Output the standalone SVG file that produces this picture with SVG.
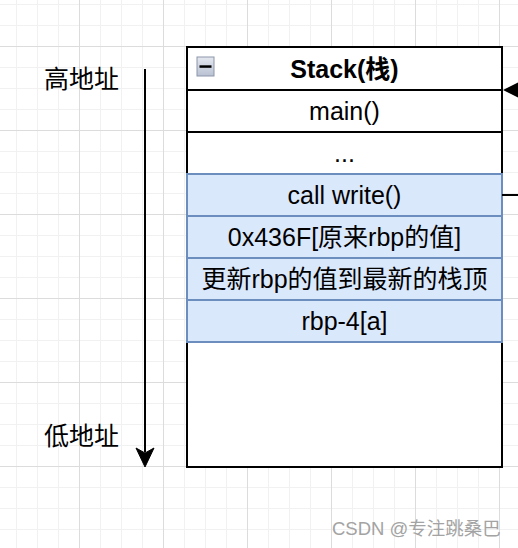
<svg xmlns="http://www.w3.org/2000/svg" width="518" height="548" viewBox="0 0 518 548">
<style>
.t{font-family:"Liberation Sans","Noto Sans CJK SC",sans-serif;font-size:25px;fill:#000;text-anchor:middle}
.b{font-weight:bold}
.l{text-anchor:start}
.row{fill:#dae8fc;stroke:#6c8ebf;stroke-width:2}
.blk{stroke:#000;stroke-width:2;fill:none}
.wm{font-family:"Liberation Sans","Noto Sans CJK SC",sans-serif;font-size:18.5px;fill:#a3a3a3}
</style>
<defs>
<pattern id="minor" patternUnits="userSpaceOnUse" x="16" y="4" width="21" height="21">
<path d="M0 0.5H21M0.5 0V21" stroke="#f1f1f1" stroke-width="1" fill="none"/>
</pattern>
<pattern id="major" patternUnits="userSpaceOnUse" x="79" y="46" width="84" height="84">
<path d="M0 0.5H84M0.5 0V84" stroke="#dcdcdc" stroke-width="1" fill="none"/>
</pattern>
<linearGradient id="ig" x1="0" y1="0" x2="0" y2="1">
<stop offset="0" stop-color="#e4e8f0"/>
<stop offset="1" stop-color="#b9c1d2"/>
</linearGradient>
</defs>
<rect width="518" height="548" fill="#fff"/>
<rect width="518" height="548" fill="url(#minor)"/>
<rect width="518" height="548" fill="url(#major)"/>

<g id="label-high"><text class="t l" x="44" y="88">高地址</text></g>
<g id="label-low"><text class="t l" x="44" y="445">低地址</text></g>

<g id="stack">
<rect x="187" y="47" width="315" height="420" fill="#fff" stroke="#000" stroke-width="2"/>
<line class="blk" x1="187" y1="90" x2="502" y2="90"/>
<line class="blk" x1="187" y1="132" x2="502" y2="132"/>
<rect x="197" y="57" width="17" height="19" fill="url(#ig)" stroke="#8d96ab" stroke-width="1"/>
<rect x="199.5" y="65.3" width="12" height="2.5" fill="#000"/>
<text class="t b" x="344.5" y="78">Stack(栈)</text>
</g>
<g id="row-main"><text class="t" x="344.5" y="120">main()</text></g>
<g id="row-dots"><text class="t" x="344.5" y="162">...</text></g>
<g id="row-call"><rect class="row" x="187" y="174" width="315" height="42"/><text class="t" x="344.5" y="204">call write()</text></g>
<g id="row-rbp-old"><rect class="row" x="187" y="216" width="315" height="42"/><text class="t" x="344.5" y="246">0x436F[原来rbp的值]</text></g>
<g id="row-update"><rect class="row" x="187" y="258" width="315" height="42"/><text class="t" x="344.5" y="288">更新rbp的值到最新的栈顶</text></g>
<g id="row-rbp4"><rect class="row" x="187" y="300" width="315" height="42"/><text class="t" x="344.5" y="330">rbp-4[a]</text></g>

<g id="connectors">
<line x1="145" y1="69" x2="145" y2="452" stroke="#000" stroke-width="2"/>
<path d="M145 467L136 448L145 453L154 448Z" fill="#000" stroke="#000" stroke-width="1"/>
<line x1="530" y1="90" x2="510" y2="90" stroke="#000" stroke-width="2"/>
<path d="M503 90L519 82L519 98Z" fill="#000"/>
<line x1="502" y1="195" x2="520" y2="195" stroke="#000" stroke-width="2"/>
</g>

<text class="wm" x="332" y="535">CSDN @专注跳桑巴</text>
</svg>
